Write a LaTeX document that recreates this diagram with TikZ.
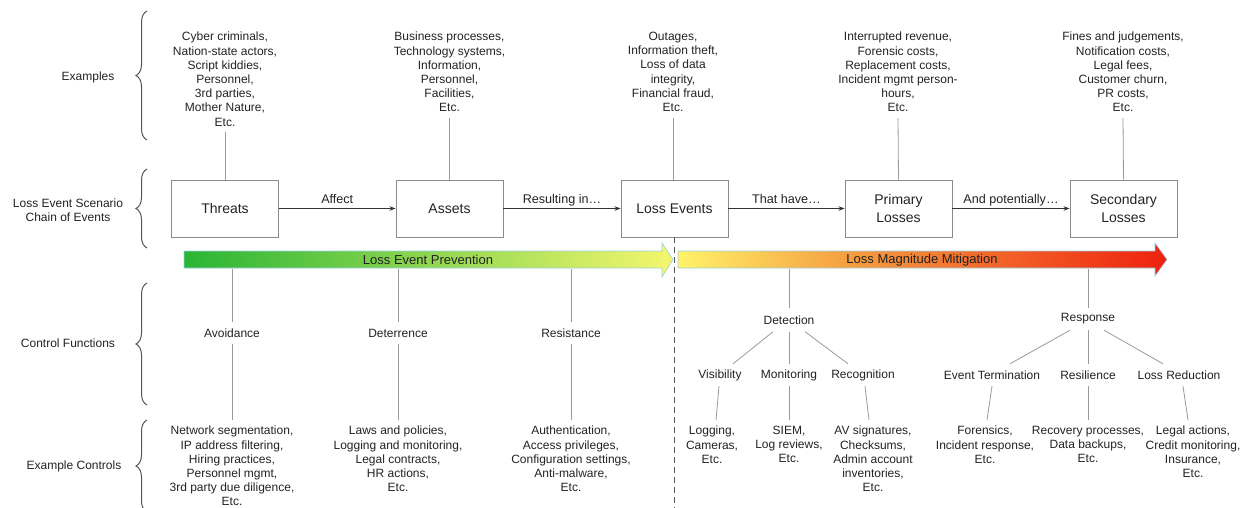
\documentclass[tikz,border=0pt]{standalone}
\usepackage{fontspec}
\setmainfont{Liberation Sans}
\usetikzlibrary{decorations.pathreplacing,arrows.meta}
\definecolor{txt}{HTML}{222222}
\definecolor{boxline}{HTML}{8A8A8A}
\definecolor{conncol}{HTML}{9A9A9A}
\definecolor{bracec}{HTML}{555555}
\definecolor{arrowc}{HTML}{333333}
\definecolor{outl}{HTML}{9CCFE6}
\definecolor{gA}{HTML}{2AB534}
\definecolor{gB}{HTML}{A4DA48}
\definecolor{gC}{HTML}{F4F76E}
\definecolor{oA}{HTML}{FFF36A}
\definecolor{oB}{HTML}{F6A443}
\definecolor{oC}{HTML}{F4582A}
\definecolor{oD}{HTML}{EE200E}
\newcommand\fsS{\fontsize{12}{14.2}\selectfont}
\newcommand\fsL{\fontsize{12.6}{15}\selectfont}
\newcommand\fsB{\fontsize{14}{18}\selectfont}
\newcommand\fsG{\fontsize{13}{15}\selectfont}
\begin{document}
\begin{tikzpicture}[x=1pt,y=-1pt,
  every node/.style={text=txt},
  ex/.style={align=center,font=\fsS,inner sep=0pt,anchor=north},
  side/.style={align=center,font=\fsS,inner sep=0pt},
  chainbox/.style={draw=boxline,line width=0.9pt,minimum width=107pt,minimum height=57pt,align=center,font=\fsB,inner sep=0pt},
  flow/.style={draw=arrowc,line width=0.8pt,-{Stealth[length=6pt,width=4.5pt]}},
  flowlbl/.style={font=\fsL,anchor=base,yshift=4.5pt,inner sep=0pt},
  conn/.style={draw=conncol,line width=0.8pt},
  func/.style={font=\fsS,inner sep=0pt,minimum height=21pt},
  bracket/.style={draw=bracec,line width=1pt,decorate,decoration={brace,amplitude=11pt}},
  barlbl/.style={font=\fsG,inner sep=0pt},
]
\useasboundingbox (0,0) rectangle (1248,508);

% braces and side labels
\draw[bracket] (147,140) -- (147,11);
\draw[bracket] (147,248) -- (147,169);
\draw[bracket] (147,405) -- (147,283);
\draw[bracket] (147,512) -- (147,420);
\node[side] (lbEx) at (88,77) {Examples};
\node[side] (lbCh) at (68,210) {Loss Event Scenario\\Chain of Events};
\node[side] (lbCf) at (68,343) {Control Functions};
\node[side] (lbEc) at (74,466) {Example Controls};

% chain boxes
\node[chainbox] (thr) at (225,208.5) {Threats};
\node[chainbox] (ast) at (449.5,208.5) {Assets};
\node[chainbox] (lev) at (674.5,208.5) {Loss Events};
\node[chainbox] (pri) at (898.5,208.5) {Primary\\Losses};
\node[chainbox] (sec) at (1123.5,208.5) {Secondary\\Losses};

\draw[flow] (thr) -- node[flowlbl]{Affect} (ast);
\draw[flow] (ast) -- node[flowlbl]{Resulting in\ldots} (lev);
\draw[flow] (lev) -- node[flowlbl]{That have\ldots} (pri);
\draw[flow] (pri) -- node[flowlbl]{And potentially\ldots} (sec);

% top examples
\node[ex] (thrx) at (225,32) {Cyber criminals,\\Nation-state actors,\\Script kiddies,\\Personnel,\\3rd parties,\\Mother Nature,\\Etc.};
\node[ex] (astx) at (449.5,32) {Business processes,\\Technology systems,\\Information,\\Personnel,\\Facilities,\\Etc.};
\node[ex] (levx) at (673,32) {Outages,\\Information theft,\\Loss of data\\integrity,\\Financial fraud,\\Etc.};
\node[ex] (prix) at (898,32) {Interrupted revenue,\\Forensic costs,\\Replacement costs,\\Incident mgmt person-\\hours,\\Etc.};
\node[ex] (secx) at (1123,32) {Fines and judgements,\\Notification costs,\\Legal fees,\\Customer churn,\\PR costs,\\Etc.};
\draw[conn] ([yshift=-6pt]thrx.south) -- (thr.north);
\draw[conn] ([yshift=-6pt]astx.south) -- (ast.north);
\draw[conn] ([yshift=-6pt]levx.south) -- (levx.south |- lev.north);
\draw[conn] ([yshift=-6pt]prix.south) -- (pri.north);
\draw[conn] ([yshift=-6pt]secx.south) -- (sec.north);

% gradient arrows
\shadedraw[draw=outl,line width=0.6pt,left color=gA,middle color=gB,right color=gC]
  (184,251) -- (662,251) -- (662,243) -- (673,259.5) -- (662,277) -- (662,268) -- (184,268) -- cycle;
\begin{scope}
  \clip (678,251) -- (1155,251) -- (1155,243) -- (1167,259.5) -- (1155,276) -- (1155,268) -- (678,268) -- cycle;
  \shade[left color=oA,right color=oB] (677,240) rectangle (836,280);
  \shade[left color=oB,middle color=oC,right color=oD] (835,240) rectangle (1170,280);
\end{scope}
\draw[outl,line width=0.6pt] (678,251) -- (1155,251) -- (1155,243) -- (1167,259.5) -- (1155,276) -- (1155,268) -- (678,268) -- cycle;
\node[barlbl] (lep) at (428,260) {Loss Event Prevention};
\node[barlbl] (lmm) at (922,260) {Loss Magnitude Mitigation};

% dashed divider
\coordinate (dashend) at (674.5,510);
\draw[draw=bracec,line width=1pt,dash pattern=on 6pt off 4pt] (lev.south) -- (dashend);

% bar attachment points
\coordinate (bAv) at (232,268.5);
\coordinate (bDe) at (398,268.5);
\coordinate (bRe) at (571,268.5);
\coordinate (bDt) at (789,268.5);
\coordinate (bRs) at (1088,268.5);

% prevention control functions
\node[func] (avo) at (232,333) {Avoidance};
\node[func] (dtr) at (398,333) {Deterrence};
\node[func] (res) at (571,333) {Resistance};
\draw[conn] (bAv) -- (avo.north);
\draw[conn] (bDe) -- (dtr.north);
\draw[conn] (bRe) -- (res.north);
\node[ex] (avox) at (232,426) {Network segmentation,\\IP address filtering,\\Hiring practices,\\Personnel mgmt,\\3rd party due diligence,\\Etc.};
\node[ex] (dtrx) at (398,426) {Laws and policies,\\Logging and monitoring,\\Legal contracts,\\HR actions,\\Etc.};
\node[ex] (resx) at (571,426) {Authentication,\\Access privileges,\\Configuration settings,\\Anti-malware,\\Etc.};
\draw[conn] (avo.south) -- ([yshift=6pt]avox.north);
\draw[conn] (dtr.south) -- ([yshift=6pt]dtrx.north);
\draw[conn] (res.south) -- ([yshift=6pt]resx.north);

% detection
\node[func,minimum height=23pt] (dtc) at (789,320) {Detection};
\draw[conn] (bDt) -- (dtc.north);
\node[func,minimum height=22pt] (vis) at (720,375) {Visibility};
\node[func,minimum height=22pt] (mon) at (789,375) {Monitoring};
\node[func,minimum height=22pt] (rec) at (863,375) {Recognition};
\draw[conn] ([xshift=-16pt]dtc.south) -- ([xshift=13pt]vis.north);
\draw[conn] (dtc.south) -- (mon.north);
\draw[conn] ([xshift=16pt]dtc.south) -- ([xshift=-15pt]rec.north);
\node[ex] (visx) at (712,426) {Logging,\\Cameras,\\Etc.};
\node[ex] (monx) at (789,426) {SIEM,\\Log reviews,\\Etc.};
\node[ex] (recx) at (873,426) {AV signatures,\\Checksums,\\Admin account\\inventories,\\Etc.};
\draw[conn] ([xshift=-1pt]vis.south) -- ([xshift=4pt,yshift=6pt]visx.north);
\draw[conn] (mon.south) -- ([yshift=6pt]monx.north);
\draw[conn] ([xshift=2pt]rec.south) -- ([xshift=-4pt,yshift=6pt]recx.north);

% response
\node[func,minimum height=22pt] (rsp) at (1088,319) {Response};
\draw[conn] (bRs) -- (rsp.north);
\node[func,minimum height=22pt] (evt) at (992,375) {Event Termination};
\node[func,minimum height=22pt] (rsl) at (1088,375) {Resilience};
\node[func,minimum height=22pt] (lrd) at (1179,375) {Loss Reduction};
\draw[conn] ([xshift=-18pt]rsp.south) -- ([xshift=18pt]evt.north);
\draw[conn] (rsp.south) -- (rsl.north);
\draw[conn] ([xshift=16pt]rsp.south) -- ([xshift=-16pt]lrd.north);
\node[ex] (evtx) at (985,426) {Forensics,\\Incident response,\\Etc.};
\node[ex] (rslx) at (1088,426) {Recovery processes,\\Data backups,\\Etc.};
\node[ex] (lrdx) at (1193,426) {Legal actions,\\Credit monitoring,\\Insurance,\\Etc.};
\draw[conn] (evt.south) -- ([xshift=2pt,yshift=6pt]evtx.north);
\draw[conn] (rsl.south) -- ([yshift=6pt]rslx.north);
\draw[conn] ([xshift=4pt]lrd.south) -- ([xshift=-5pt,yshift=6pt]lrdx.north);
\end{tikzpicture}
\end{document}
